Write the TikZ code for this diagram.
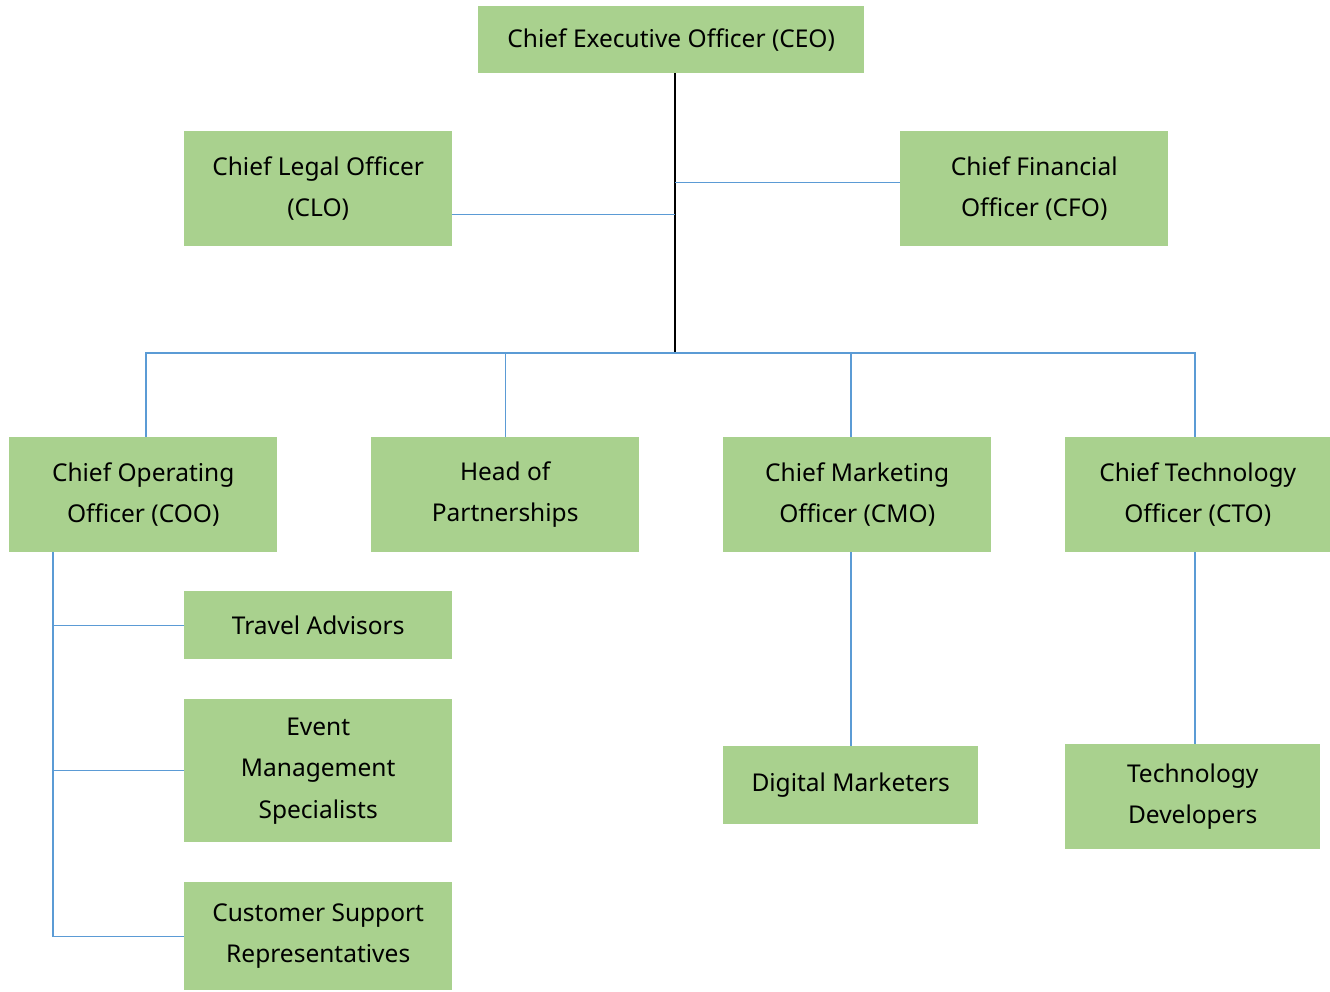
\documentclass[tikz,border=0pt]{standalone}
\usepackage{fontspec}
\setmainfont{Noto Sans}
\begin{document}
\begin{tikzpicture}[x=1pt,y=-1pt,
  box/.style={fill=boxgreen, draw=none, anchor=north west, inner sep=0pt,
    align=center, font=\fontsize{24.5}{41.5}\selectfont, text=black},
  blueline/.style={draw=lineblue, line width=1.3pt},
  stemline/.style={draw=black, line width=1.3pt}]
\definecolor{boxgreen}{HTML}{A9D18E}
\definecolor{lineblue}{HTML}{5B9BD5}
\useasboundingbox (0,0) rectangle (1330,991);
% boxes: top-left corner, width x height
\node[box, minimum width=386, minimum height=67] (ceo) at (478,6) {Chief Executive Officer (CEO)};
\node[box, minimum width=268, minimum height=115] (clo) at (184,131) {Chief Legal Officer\\(CLO)};
\node[box, minimum width=268, minimum height=115] (cfo) at (900,131) {Chief Financial\\Officer (CFO)};
\node[box, minimum width=268, minimum height=115] (coo) at (9,437) {Chief Operating\\Officer (COO)};
\node[box, minimum width=268, minimum height=115] (hop) at (371,437) {Head of\\Partnerships};
\node[box, minimum width=268, minimum height=115] (cmo) at (723,437) {Chief Marketing\\Officer (CMO)};
\node[box, minimum width=265, minimum height=115] (cto) at (1065,437) {Chief Technology\\Officer (CTO)};
\node[box, minimum width=268, minimum height=68] (ta) at (184,591) {Travel Advisors};
\node[box, minimum width=268, minimum height=143] (ems) at (184,699) {Event\\Management\\Specialists};
\node[box, minimum width=268, minimum height=108] (csr) at (184,882) {Customer Support\\Representatives};
\node[box, minimum width=255, minimum height=78] (dm) at (723,746) {Digital Marketers};
\node[box, minimum width=255, minimum height=105] (td) at (1065,744) {Technology\\Developers};
% junction points
\coordinate (stem) at (675,73);
\coordinate (bus) at (675,353);
\coordinate (busL) at (146,353);
\coordinate (busR) at (1195,353);
\coordinate (cmoX) at (851,353);
\coordinate (cooline) at (53,552);
% CEO stem down to the bus
\draw[stemline] (stem) -- (bus);
% side officers
\draw[blueline] ([yshift=-25.5]clo.east) -- ([yshift=-25.5]clo.east -| bus);
\draw[blueline] ([yshift=6.5]cfo.west) -- ([yshift=6.5]cfo.west -| bus);
% bus to the four officers
\draw[blueline] (busL |- coo.north) -- (busL) -- (busR) -- (busR |- cto.north);
\draw[blueline] (hop.north) -- (hop.north |- bus);
\draw[blueline] (cmoX) -- (cmoX |- cmo.north);
% COO reports
\draw[blueline] (cooline) |- (csr.west);
\draw[blueline] (cooline |- ta.west) -- (ta.west);
\draw[blueline] (cooline |- ems.west) -- (ems.west);
% CMO and CTO reports
\draw[blueline] (cmoX |- cmo.south) -- (cmoX |- dm.north);
\draw[blueline] (busR |- cto.south) -- (busR |- td.north);
\end{tikzpicture}
\end{document}
